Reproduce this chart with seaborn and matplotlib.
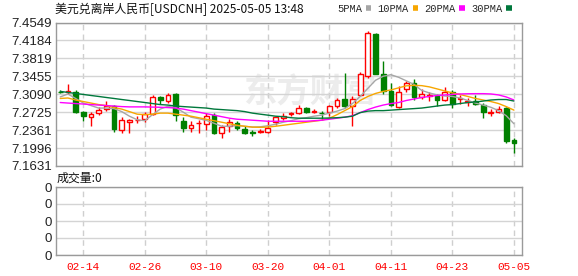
import matplotlib
matplotlib.use('Agg')
import matplotlib.pyplot as plt
import seaborn as sns
import numpy as np
import pandas as pd
from matplotlib.lines import Line2D

sns.set_style('white')
plt.rcParams['font.family'] = ['Liberation Sans', 'Noto Sans CJK SC', 'DejaVu Sans']

# ---------------- data ----------------
dates = ['02-11', '02-12', '02-13', '02-14', '02-17', '02-18', '02-19', '02-20', '02-21', '02-24',
         '02-25', '02-26', '02-27', '02-28', '03-03', '03-04', '03-05', '03-06', '03-07', '03-10',
         '03-11', '03-12', '03-13', '03-14', '03-17', '03-18', '03-19', '03-20', '03-21', '03-24',
         '03-25', '03-26', '03-27', '03-28', '03-31', '04-01', '04-02', '04-03', '04-04', '04-07',
         '04-08', '04-09', '04-10', '04-11', '04-14', '04-15', '04-16', '04-17', '04-18', '04-21',
         '04-22', '04-23', '04-24', '04-25', '04-28', '04-29', '04-30', '05-01', '05-02', '05-05']

open_ = [7.3143, 7.3127, 7.3141, 7.2730, 7.2634, 7.2702, 7.2798, 7.2860, 7.2367, 7.2525,
         7.2558, 7.2587, 7.2689, 7.3039, 7.2948, 7.3086, 7.2552, 7.2402, 7.2500, 7.2490,
         7.2675, 7.2299, 7.2435, 7.2504, 7.2387, 7.2319, 7.2326, 7.2319, 7.2525, 7.2613,
         7.2685, 7.2710, 7.2813, 7.2730, 7.2716, 7.2730, 7.2845, 7.2997, 7.2850, 7.3076,
         7.3456, 7.4319, 7.3511, 7.3154, 7.2833, 7.3189, 7.3326, 7.3039, 7.3055, 7.3051,
         7.2969, 7.3133, 7.2993, 7.2942, 7.2948, 7.2880, 7.2716, 7.2722, 7.2813, 7.2161]
high = [7.3174, 7.3291, 7.3168, 7.2743, 7.2722, 7.2825, 7.2948, 7.2880, 7.2619, 7.2582,
        7.2640, 7.2722, 7.3072, 7.3045, 7.3121, 7.3106, 7.2634, 7.2537, 7.2572, 7.2710,
        7.2710, 7.2469, 7.2587, 7.2537, 7.2435, 7.2367, 7.2381, 7.2558, 7.2640, 7.2710,
        7.2730, 7.2866, 7.2839, 7.2792, 7.2757, 7.2880, 7.3004, 7.3532, 7.3051, 7.3544,
        7.4374, 7.4333, 7.3770, 7.3326, 7.3256, 7.3359, 7.3409, 7.3203, 7.3133, 7.3086,
        7.3244, 7.3174, 7.3065, 7.3018, 7.3065, 7.2915, 7.2792, 7.2860, 7.2833, 7.2196]
low = [7.3106, 7.3086, 7.2716, 7.2537, 7.2449, 7.2669, 7.2757, 7.2332, 7.2299, 7.2299,
       7.2504, 7.2517, 7.2675, 7.2895, 7.2915, 7.2537, 7.2326, 7.2332, 7.2299, 7.2367,
       7.2284, 7.2196, 7.2332, 7.2367, 7.2284, 7.2243, 7.2299, 7.2299, 7.2469, 7.2572,
       7.2640, 7.2689, 7.2706, 7.2710, 7.2572, 7.2640, 7.2819, 7.2813, 7.2435, 7.3051,
       7.3425, 7.3497, 7.3086, 7.2845, 7.2819, 7.3133, 7.2983, 7.2998, 7.2948, 7.2860,
       7.2948, 7.2813, 7.2901, 7.2860, 7.2880, 7.2607, 7.2640, 7.2716, 7.2106, 7.1900]
close = [7.3139, 7.3148, 7.2730, 7.2640, 7.2689, 7.2778, 7.2860, 7.2381, 7.2572, 7.2572,
         7.2572, 7.2695, 7.3039, 7.2983, 7.3065, 7.2675, 7.2397, 7.2455, 7.2511, 7.2654,
         7.2299, 7.2422, 7.2517, 7.2402, 7.2299, 7.2305, 7.2336, 7.2402, 7.2619, 7.2654,
         7.2700, 7.2813, 7.2722, 7.2741, 7.2704, 7.2845, 7.2983, 7.2845, 7.2997, 7.3497,
         7.4339, 7.3511, 7.3154, 7.2866, 7.3141, 7.3326, 7.3039, 7.3086, 7.3065, 7.2983,
         7.3133, 7.2901, 7.3004, 7.2952, 7.2895, 7.2722, 7.2726, 7.2792, 7.2147, 7.2093]

ma5 = [7.3035, 7.3096, 7.3004, 7.2911, 7.2860, 7.2809, 7.2809, 7.2798, 7.2737, 7.2644,
       7.2572, 7.2552, 7.2675, 7.2788, 7.2845, 7.2819, 7.2726, 7.2624, 7.2593, 7.2558,
       7.2500, 7.2439, 7.2439, 7.2453, 7.2439, 7.2422, 7.2428, 7.2449, 7.2480, 7.2521,
       7.2552, 7.2593, 7.2613, 7.2644, 7.2665, 7.2706, 7.2747, 7.2798, 7.2901, 7.3045,
       7.3209, 7.3374, 7.3456, 7.3487, 7.3435, 7.3363, 7.3291, 7.3168, 7.3117, 7.3076,
       7.3055, 7.3045, 7.3014, 7.2963, 7.2911, 7.2870, 7.2825, 7.2757, 7.2654, 7.2490]
ma10 = [7.3004, 7.3014, 7.2973, 7.2942, 7.2911, 7.2880, 7.2860, 7.2819, 7.2788, 7.2737,
        7.2685, 7.2675, 7.2685, 7.2706, 7.2706, 7.2685, 7.2665, 7.2644, 7.2613, 7.2582,
        7.2552, 7.2521, 7.2490, 7.2459, 7.2439, 7.2422, 7.2418, 7.2422, 7.2439, 7.2459,
        7.2480, 7.2500, 7.2521, 7.2541, 7.2562, 7.2603, 7.2675, 7.2757, 7.2839, 7.2963,
        7.3045, 7.3106, 7.3148, 7.3178, 7.3220, 7.3261, 7.3271, 7.3265, 7.3240, 7.3199,
        7.3158, 7.3117, 7.3086, 7.3045, 7.3004, 7.2973, 7.2942, 7.2901, 7.2839, 7.2767]
ma20 = [7.2922, 7.2911, 7.2901, 7.2891, 7.2880, 7.2870, 7.2860, 7.2850, 7.2839, 7.2833,
        7.2833, 7.2833, 7.2829, 7.2825, 7.2819, 7.2809, 7.2788, 7.2757, 7.2726, 7.2695,
        7.2665, 7.2634, 7.2603, 7.2582, 7.2572, 7.2562, 7.2552, 7.2541, 7.2541, 7.2541,
        7.2541, 7.2541, 7.2541, 7.2552, 7.2562, 7.2582, 7.2603, 7.2624, 7.2654, 7.2716,
        7.2778, 7.2829, 7.2870, 7.2901, 7.2922, 7.2963, 7.2993, 7.3024, 7.3045, 7.3065,
        7.3076, 7.3086, 7.3096, 7.3100, 7.3102, 7.3102, 7.3096, 7.3076, 7.3035, 7.2973]
ma30 = [7.3148, 7.3127, 7.3106, 7.3086, 7.3065, 7.3045, 7.3024, 7.3004, 7.2983, 7.2963,
        7.2942, 7.2922, 7.2901, 7.2880, 7.2870, 7.2850, 7.2839, 7.2829, 7.2819, 7.2809,
        7.2788, 7.2778, 7.2767, 7.2757, 7.2737, 7.2706, 7.2685, 7.2665, 7.2644, 7.2634,
        7.2613, 7.2603, 7.2603, 7.2603, 7.2603, 7.2607, 7.2613, 7.2624, 7.2644, 7.2716,
        7.2747, 7.2757, 7.2757, 7.2767, 7.2778, 7.2788, 7.2798, 7.2809, 7.2829, 7.2850,
        7.2870, 7.2880, 7.2901, 7.2922, 7.2932, 7.2952, 7.2973, 7.2983, 7.2983, 7.2952]

ma_names = ['5PMA', '10PMA', '20PMA', '30PMA']
ma_colors = ['#a6a6a6', '#f7a600', '#ff00ff', '#00783c']

y_ticks = [7.1631, 7.1996, 7.2361, 7.2725, 7.3090, 7.3455, 7.3819, 7.4184, 7.4549]
x_tick_labels = ['02-14', '02-26', '03-10', '03-20', '04-01', '04-11', '04-23', '05-05']

title = '美元兑离岸人民币[USDCNH] 2025-05-05 13:48'
volume_label = '成交量:0'
watermark = '东方财富'

# ---------------- figure ----------------
W, H = 578, 276
fig = plt.figure(figsize=(W / 100, H / 100), dpi=100)


def rect(l, t, r, b):
    return [l / W, 1 - b / H, (r - l) / W, (b - t) / H]


ax = fig.add_axes(rect(56, 22.5, 522, 166))
axv = fig.add_axes(rect(56, 187, 522, 255))

df = pd.DataFrame({'date': dates, 'open': open_, 'high': high, 'low': low, 'close': close})
df['idx'] = np.arange(len(df))
up = df['close'] >= df['open']
RED, GREEN = '#ff0000', '#008000'

# watermark
ax.text((243 - 56) / 466, (166 - 93) / 143.5, watermark, transform=ax.transAxes,
        fontsize=24, fontweight='bold', color='#ececec', va='center', ha='left',
        family=['Noto Sans CJK SC'], zorder=0)

# wicks
ax.vlines(df.loc[up, 'idx'], df.loc[up, 'low'], df.loc[up, 'high'], colors=RED, lw=1, zorder=2)
ax.vlines(df.loc[~up, 'idx'], df.loc[~up, 'low'], df.loc[~up, 'high'], colors=GREEN, lw=1, zorder=2)
# bodies
body_bottom = np.minimum(df['open'], df['close'])
body_h = np.abs(df['close'] - df['open'])
ax.bar(df.loc[up, 'idx'], body_h[up], bottom=body_bottom[up], width=0.62,
       color='white', edgecolor=RED, linewidth=1, zorder=3)
ax.bar(df.loc[~up, 'idx'], body_h[~up], bottom=body_bottom[~up], width=0.62,
       color=GREEN, edgecolor=GREEN, linewidth=1, zorder=3)

# moving averages
ma_df = pd.concat([
    pd.DataFrame({'idx': df['idx'], 'value': vals, 'ma': name})
    for name, vals in zip(ma_names, [ma5, ma10, ma20, ma30])
])
sns.lineplot(data=ma_df, x='idx', y='value', hue='ma', palette=dict(zip(ma_names, ma_colors)),
             estimator=None, legend=False, lw=1, ax=ax, zorder=4)

tick_pos = [dates.index(d) for d in x_tick_labels]
xlim = (-0.55, len(dates) + 0.05)

for a in (ax, axv):
    a.set_xlim(*xlim)
    a.set_xticks(tick_pos)
    a.grid(axis='x', color='#cfcfcf', linestyle=(0, (4, 3)), lw=1)
    a.grid(axis='y', color='#d4d4d4', linestyle='-', lw=1)
    a.set_axisbelow(True)
    for s in a.spines.values():
        s.set_color('#9a9a9a')
        s.set_linewidth(1)
    a.set_xlabel('')
    a.set_ylabel('')
    a.tick_params(length=0)

ax.set_ylim(y_ticks[0], y_ticks[-1])
ax.set_yticks(y_ticks)
ax.set_yticklabels([f'{v:.4f}' for v in y_ticks])
ax.tick_params(axis='y', labelsize=9.5, labelcolor='#222222', pad=3)
ax.set_xticklabels([])

axv.set_ylim(0, 4)
axv.set_yticks([0, 1, 2, 3, 4])
axv.set_yticklabels(['0'] * 5)
axv.tick_params(axis='y', labelsize=9.5, labelcolor='#222222', pad=3)
axv.set_xticklabels(x_tick_labels, color='#ff0000', fontsize=8, family=['Liberation Mono'])
axv.tick_params(axis='x', pad=5)

fig.text(55 / W, 1 - 9 / H, title, fontsize=8.6, family=['Noto Sans CJK SC', 'DejaVu Sans'],
         va='center', ha='left', color='#111111')
fig.text(57 / W, 1 - 178 / H, volume_label, fontsize=8.6, family=['Noto Sans CJK SC', 'DejaVu Sans'],
         va='center', ha='left', color='#111111')

handles = [Line2D([0], [0], color=c, lw=4, solid_capstyle='butt') for c in ma_colors]
fig.legend(handles, ma_names, loc='center right', bbox_to_anchor=(512 / W, 1 - 9 / H), ncol=4,
           frameon=False, markerfirst=False, handlelength=0.55, handletextpad=0.35,
           columnspacing=0.6, borderpad=0, borderaxespad=0,
           prop={'family': 'Liberation Mono', 'size': 7.5})

fig.savefig('out.png', dpi=100)
